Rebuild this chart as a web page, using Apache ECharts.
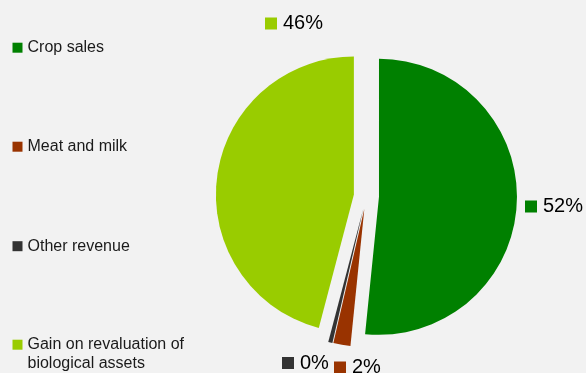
<!DOCTYPE html>
<html>
<head>
<meta charset="utf-8">
<script src="https://cdn.jsdelivr.net/npm/echarts@6/dist/echarts.min.js"></script>
<style>
html,body{margin:0;padding:0;background:#f2f2f2;}
#chart{width:586px;height:373px;}
</style>
</head>
<body>
<div id="chart"></div>
<script>
const categories = ['Crop sales', 'Meat and milk', 'Other revenue', 'Gain on revaluation of biological assets'];
const values = [51.6, 2.0, 0.49, 45.9];
const colors = ['#008000', '#993300', '#333333', '#99cc00'];

const FONT = '"Liberation Sans", Arial, sans-serif';
const TEXT = '#1a1a1a';

// layout (not data)
const legendTops = [38.2, 137.2, 236.7, 316.2];
const labelAnchors = [[525, 206.5], [334, 367.5], [282, 363], [265, 23.5]];

const total = values.reduce((a, b) => a + b, 0);
const percents = values.map(v => Math.round(v / total * 100));

const chart = echarts.init(document.getElementById('chart'), null, {renderer: 'canvas'});

const legends = categories.map((name, i) => ({
  data: [name],
  left: 12.5,
  top: legendTops[i],
  orient: 'vertical',
  padding: 0,
  icon: 'rect',
  itemWidth: 10,
  itemHeight: 10,
  selectedMode: false,
  formatter: i === 3 ? (n => '\n' + n) : '{name}',
  textStyle: {
    fontFamily: FONT,
    fontSize: 16,
    color: TEXT,
    lineHeight: 19,
    width: 175,
    overflow: 'break'
  }
}));

const rich = {t: {fontFamily: FONT, fontSize: 20, color: TEXT, padding: [0, 0, 0, 6], verticalAlign: 'middle'}};
colors.forEach((c, i) => {
  rich['s' + i] = {width: 12, height: 12, backgroundColor: c, verticalAlign: 'middle'};
});

const labelGraphics = categories.map((name, i) => ({
  type: 'text',
  x: labelAnchors[i][0],
  y: labelAnchors[i][1],
  silent: true,
  style: {
    text: '{s' + i + '|}{t|' + percents[i] + '%}',
    rich: rich,
    align: 'left',
    verticalAlign: 'middle'
  }
}));

const option = {
  backgroundColor: '#f2f2f2',
  animation: false,
  legend: legends,
  graphic: labelGraphics,
  series: [{
    type: 'pie',
    center: [366.4, 196.2],
    radius: 138,
    startAngle: 90,
    clockwise: true,
    selectedMode: 'multiple',
    selectedOffset: 12.6,
    avoidLabelOverlap: false,
    emphasis: {disabled: true},
    label: {show: false},
    labelLine: {show: false},
    data: categories.map((name, i) => ({
      name: name,
      value: values[i],
      selected: true,
      itemStyle: {color: colors[i], borderWidth: 0},
      select: {itemStyle: {color: colors[i], borderWidth: 0}}
    }))
  }]
};
chart.setOption(option);
</script>
</body>
</html>
